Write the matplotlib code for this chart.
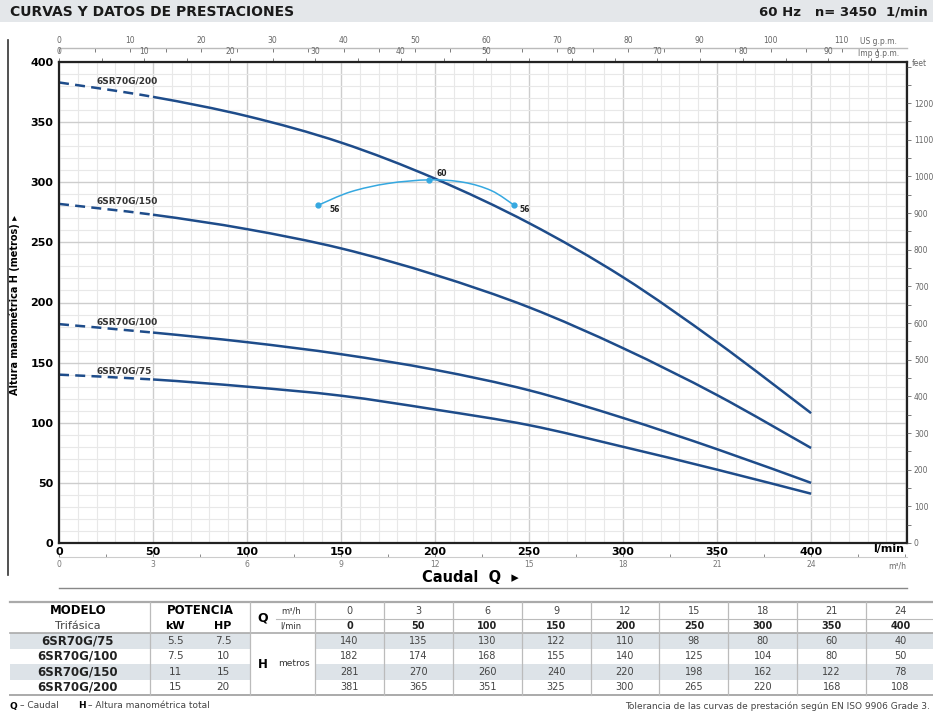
import numpy as np
import matplotlib
matplotlib.use("Agg")
import matplotlib.pyplot as plt
from matplotlib.ticker import MultipleLocator, FixedLocator
from matplotlib.path import Path
from matplotlib.patches import PathPatch

q_lmin = [0, 50, 100, 150, 200, 250, 300, 350, 400]
q_m3h = [0, 3, 6, 9, 12, 15, 18, 21, 24]
models = ["6SR70G/75", "6SR70G/100", "6SR70G/150", "6SR70G/200"]
kw = ["5.5", "7.5", "11", "15"]
hp = ["7.5", "10", "15", "20"]
# table values
h_75 = [140, 135, 130, 122, 110, 98, 80, 60, 40]
h_100 = [182, 174, 168, 155, 140, 125, 104, 80, 50]
h_150 = [281, 270, 260, 240, 220, 198, 162, 122, 78]
h_200 = [381, 365, 351, 325, 300, 265, 220, 168, 108]
heads = [h_75, h_100, h_150, h_200]
# curves as drawn in the chart
c_75 = [140, 136, 130, 122.5, 111, 98, 80, 61, 41]
c_100 = [182, 175, 167, 157, 144, 127, 104, 78, 50]
c_150 = [282, 273, 261, 245, 223, 196, 162, 123, 79]
c_200 = [383, 371, 355, 333, 303, 266, 221, 167, 108]
curves = [c_75, c_100, c_150, c_200]
label_pos = [(20, 143), (20, 184), (20, 284), (20, 384)]

# efficiency arc
eff_q = [138, 155, 175, 197, 215, 230, 242]
eff_h = [281, 292, 299, 302, 300, 293, 281]
eff_pts = [(138, 281, "56", 144, 277), (197, 302, "60", 201, 307), (242, 281, "56", 245, 277)]

W, H = 933, 713
blue = "#1e4c8a"
lblue = "#35a8e0"

fig = plt.figure(figsize=(W / 100, H / 100), dpi=100)


def smooth_path(xs, ys, i0, i1):
    # bezier segments through the given points (catmull-rom tangents)
    pts = np.column_stack([xs, ys]).astype(float)
    n = len(pts)
    verts = [pts[i0]]
    codes = [Path.MOVETO]
    for i in range(i0, i1):
        p0 = pts[max(i - 1, 0)]
        p1 = pts[i]
        p2 = pts[i + 1]
        p3 = pts[min(i + 2, n - 1)]
        verts += [p1 + (p2 - p0) / 6, p2 - (p3 - p1) / 6, p2]
        codes += [Path.CURVE4] * 3
    return Path(verts, codes)


# pixel overlay for header, table, decorations
ov = fig.add_axes([0, 0, 1, 1], zorder=0)
ov.set_xlim(0, W)
ov.set_ylim(H, 0)
ov.axis("off")

ax = fig.add_axes([59 / W, 1 - 543 / H, (907 - 59) / W, (543 - 62) / H], zorder=2)
ax.set_xlim(0, 451)
ax.set_ylim(0, 400)
ax.xaxis.set_major_locator(FixedLocator(q_lmin))
ax.xaxis.set_minor_locator(MultipleLocator(10))
ax.yaxis.set_major_locator(MultipleLocator(50))
ax.yaxis.set_minor_locator(MultipleLocator(10))
ax.grid(which="minor", color="#e8e8e8", lw=0.8)
ax.grid(which="major", color="#cdcdcd", lw=1.0)
ax.set_axisbelow(True)
ax.tick_params(which="both", length=0)
ax.tick_params(axis="x", pad=3, labelsize=8)
ax.tick_params(axis="y", pad=4, labelsize=8)
for lab in ax.get_xticklabels() + ax.get_yticklabels():
    lab.set_fontweight("bold")
for sp in ax.spines.values():
    sp.set_linewidth(1.6)
    sp.set_color("#222222")

for c, name, (lx, ly) in zip(curves, models, label_pos):
    ax.add_patch(PathPatch(smooth_path(q_lmin, c, 0, 1), fill=False, ec=blue, lw=1.8,
                           ls=(0, (4, 2.5))))
    ax.add_patch(PathPatch(smooth_path(q_lmin, c, 1, len(c) - 1), fill=False, ec=blue, lw=1.8))
    ax.text(lx, ly, name, fontsize=6.5, fontweight="bold", color="#333333", va="center")

ax.add_patch(PathPatch(smooth_path(eff_q, eff_h, 0, len(eff_q) - 1), fill=False, ec=lblue, lw=1.1))
for px, py, t, tx, ty in eff_pts:
    ax.plot(px, py, "o", ms=3.5, color=lblue)
    ax.text(tx, ty, t, fontsize=5.5, fontweight="bold", color="#222222", va="center")

# top axes: US g.p.m. and Imp g.p.m.
us = ax.secondary_xaxis(1 + 14 / 481, functions=(lambda q: q / 3.785, lambda g: g * 3.785))
us.set_xticks(np.arange(0, 111, 10))
us.xaxis.set_minor_locator(MultipleLocator(5))
us.tick_params(which="both", direction="in", length=3, pad=2, labelsize=5.5,
               colors="#666666", width=0.6)
us.spines["top"].set_color("#bbbbbb")
us.spines["top"].set_linewidth(1.0)

imp = ax.secondary_xaxis("top", functions=(lambda q: q / 4.546, lambda g: g * 4.546))
imp.set_xticks(np.arange(0, 91, 10))
imp.xaxis.set_minor_locator(MultipleLocator(5))
imp.tick_params(which="both", direction="out", length=3, pad=1.5, labelsize=5.5,
                colors="#666666", width=0.6)
imp.spines["top"].set_visible(False)

# bottom m3/h axis
m3 = ax.secondary_xaxis(-14 / 481, functions=(lambda q: q * 60 / 1000, lambda m: m * 1000 / 60))
m3.set_xticks(q_m3h)
m3.xaxis.set_minor_locator(MultipleLocator(1.5))
m3.tick_params(which="both", direction="in", length=2.5, pad=2, labelsize=5.5,
               colors="#777777", width=0.6)
m3.spines["bottom"].set_color("#cccccc")
m3.spines["bottom"].set_linewidth(0.8)

# right feet axis
ft = ax.twinx()
ft.set_ylim(0, 400 * 3.28084)
ft.set_yticks(np.arange(0, 1201, 100))
ft.yaxis.set_minor_locator(MultipleLocator(50))
ft.tick_params(which="both", direction="out", length=3, pad=2, labelsize=5.5,
               colors="#666666", width=0.6)
for sp in ft.spines.values():
    sp.set_visible(False)

# labels around the chart
ov.text(15, 305, "Altura manométrica H (metros) \u25b8", rotation=90, fontsize=7,
        fontweight="bold", ha="center", va="center", family="Liberation Sans Narrow")
ov.text(470, 577, "Caudal  Q  \u25b8", fontsize=10.5, fontweight="bold", ha="center",
        va="center", family="DejaVu Sans")
ov.text(904, 549, "l/min", fontsize=8, fontweight="bold", ha="right", va="center")
ov.text(906, 566, "m\u00b3/h", fontsize=5.5, color="#666666", ha="right", va="center")
ov.text(912, 63, "feet", fontsize=5.5, color="#666666", ha="left", va="center")
ov.text(860, 41, "US g.p.m.", fontsize=5.5, color="#666666", ha="left", va="center")
ov.text(858, 54, "Imp g.p.m.", fontsize=5.5, color="#666666", ha="left", va="center")
ov.plot([8, 8], [40, 575], color="#333333", lw=1.2)
ov.plot([59, 907], [588, 588], color="#888888", lw=1.0)

# header band
ov.add_patch(plt.Rectangle((0, 0), W, 22, color="#e4e7ea", lw=0))
ov.text(10, 12, "CURVAS Y DATOS DE PRESTACIONES", fontsize=10, fontweight="bold",
        family="DejaVu Sans", va="center", color="#1a1a1a")
ov.text(928, 12, "60 Hz   n= 3450  1/min", fontsize=9.5, fontweight="bold",
        family="DejaVu Sans", va="center", ha="right", color="#1a1a1a")

# table
tf = "DejaVu Sans"
x0, x_end = 315, 935
cw = (x_end - x0) / 9
row_top = [633, 648.5, 664, 679.5]
row_h = 15.5
for i in (0, 2):
    ov.add_patch(plt.Rectangle((10, row_top[i]), 240, row_h, color="#dde3e8", lw=0))
    ov.add_patch(plt.Rectangle((x0, row_top[i]), x_end - x0, row_h, color="#dde3e8", lw=0))
ov.plot([10, x_end], [602, 602], color="#aaaaaa", lw=1.6)
ov.plot([10, x_end], [633, 633], color="#aaaaaa", lw=1.2)
ov.plot([10, x_end], [695, 695], color="#aaaaaa", lw=1.4)
ov.plot([276, x_end], [618.5, 618.5], color="#bbbbbb", lw=0.8)
for xv in [150, 250, 315] + [x0 + k * cw for k in range(1, 9)]:
    ov.plot([xv, xv], [602, 695], color="#bbbbbb", lw=0.9)

ov.text(78, 611, "MODELO", fontsize=8.5, fontweight="bold", family=tf, ha="center", va="center")
ov.text(78, 626, "Trifásica", fontsize=8, family=tf, ha="center", va="center", color="#444444")
ov.text(200, 611, "POTENCIA", fontsize=8.5, fontweight="bold", family=tf, ha="center", va="center")
ov.text(175, 626, "kW", fontsize=8, fontweight="bold", family=tf, ha="center", va="center")
ov.text(223, 626, "HP", fontsize=8, fontweight="bold", family=tf, ha="center", va="center")
ov.text(263, 618, "Q", fontsize=9, fontweight="bold", family=tf, ha="center", va="center")
ov.text(291, 611, "m\u00b3/h", fontsize=6, family=tf, ha="center", va="center", color="#333333")
ov.text(291, 626, "l/min", fontsize=6, family=tf, ha="center", va="center", color="#333333")
ov.text(263, 664, "H", fontsize=8.5, fontweight="bold", family=tf, ha="center", va="center")
ov.text(294, 664, "metros", fontsize=6.5, family=tf, ha="center", va="center", color="#333333")

for k in range(9):
    cx = x0 + cw * (k + 0.5)
    ov.text(cx, 611, str(q_m3h[k]), fontsize=7, family=tf, ha="center", va="center", color="#444444")
    ov.text(cx, 626, str(q_lmin[k]), fontsize=7, fontweight="bold", family=tf,
            ha="center", va="center", color="#222222")
for i in range(4):
    cy = row_top[i] + row_h / 2
    ov.text(78, cy, models[i], fontsize=8.5, fontweight="bold", family=tf, ha="center",
            va="center", color="#222222")
    ov.text(175, cy, kw[i], fontsize=7.5, family=tf, ha="center", va="center", color="#444444")
    ov.text(223, cy, hp[i], fontsize=7.5, family=tf, ha="center", va="center", color="#444444")
    for k in range(9):
        ov.text(x0 + cw * (k + 0.5), cy, str(heads[i][k]), fontsize=7, family=tf,
                ha="center", va="center", color="#444444")

ov.text(10, 706, "Q", fontsize=6.5, fontweight="bold", family=tf, va="center")
ov.text(20, 706, "\u2013 Caudal", fontsize=6.5, family=tf, va="center", color="#444444")
ov.text(78, 706, "H", fontsize=6.5, fontweight="bold", family=tf, va="center")
ov.text(88, 706, "\u2013 Altura manométrica total", fontsize=6.5, family=tf, va="center",
        color="#444444")
ov.text(930, 706, "Tolerancia de las curvas de prestación según EN ISO 9906 Grade 3.",
        fontsize=6.5, family=tf, va="center", ha="right", color="#444444")

fig.savefig("out.png", dpi=100)
